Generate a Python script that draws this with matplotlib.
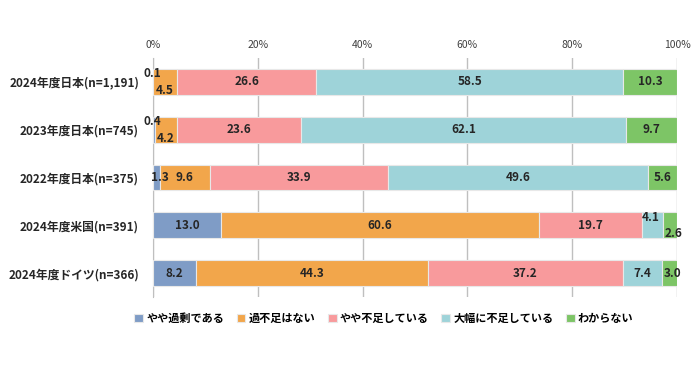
import matplotlib
matplotlib.use("Agg")
import matplotlib.pyplot as plt
import numpy as np

plt.rcParams['font.family'] = ['Noto Sans CJK JP', 'DejaVu Sans']

categories = ["2024年度日本(n=1,191)", "2023年度日本(n=745)", "2022年度日本(n=375)",
              "2024年度米国(n=391)", "2024年度ドイツ(n=366)"]
series_names = ["やや過剰である", "過不足はない", "やや不足している", "大幅に不足している", "わからない"]
yaya_kajo = [0.1, 0.4, 1.3, 13.0, 8.2]
kafusoku_nashi = [4.5, 4.2, 9.6, 60.6, 44.3]
yaya_fusoku = [26.6, 23.6, 33.9, 19.7, 37.2]
oohaba_fusoku = [58.5, 62.1, 49.6, 4.1, 7.4]
wakaranai = [10.3, 9.7, 5.6, 2.6, 3.0]
ticks = [0, 20, 40, 60, 80, 100]

colors = ["#7f9cc6", "#f2a64b", "#f89a9c", "#9ed3d9", "#7dc566"]
series = [yaya_kajo, kafusoku_nashi, yaya_fusoku, oohaba_fusoku, wakaranai]

# label nudges for the thin segments: (row, series) -> (dx in %, dy in rows)
nudge = {
    (0, 0): (-0.2, -0.18), (0, 1): (0.0, 0.18),
    (1, 0): (-0.2, -0.18), (1, 1): (0.0, 0.18),
    (2, 0): (0.6, 0.0),
    (3, 3): (-0.3, -0.17), (3, 4): (0.6, 0.18),
    (4, 4): (0.6, 0.0),
}

fig = plt.figure(figsize=(6.98, 3.65), dpi=100)
ax = fig.add_axes([0.219, 0.186, 0.751, 0.655])

y = np.arange(len(categories))
left = np.zeros(len(categories))
for i, (vals, name, c) in enumerate(zip(series, series_names, colors)):
    vals = np.array(vals)
    ax.barh(y, vals, left=left, height=0.54, color=c, edgecolor="#e8e8e8",
            linewidth=0.8, label=name, zorder=3)
    for r, v in enumerate(vals):
        dx, dy = nudge.get((r, i), (0, 0))
        ax.text(left[r] + v / 2 + dx, y[r] + dy, f"{v:.1f}", ha="center", va="center",
                fontsize=8.5, fontweight="bold", color="#262626", zorder=4)
    left += vals

ax.set_xlim(0, 100)
ax.set_ylim(len(categories) - 0.5, -0.5)
ax.set_xticks(ticks)
ax.set_xticklabels([f"{t}%" for t in ticks], fontsize=7.5, color="#404040")
ax.xaxis.tick_top()
ax.tick_params(axis="x", length=0, pad=6)
ax.set_yticks(y)
ax.set_yticklabels(categories, fontsize=8.5, fontweight="bold", color="#262626")
ax.tick_params(axis="y", length=0, pad=10)
ax.grid(axis="x", color="#bfbfbf", linewidth=1, zorder=0)
for s in ["top", "right", "bottom"]:
    ax.spines[s].set_visible(False)
ax.spines["left"].set_color("#bfbfbf")

fig.legend(loc="center left", bbox_to_anchor=(0.178, 0.128), ncol=5, frameon=False,
           handlelength=0.8, handleheight=0.8, handletextpad=0.3,
           columnspacing=1.1, prop={"weight": "bold", "size": 8})

fig.savefig("out.png", dpi=100)
